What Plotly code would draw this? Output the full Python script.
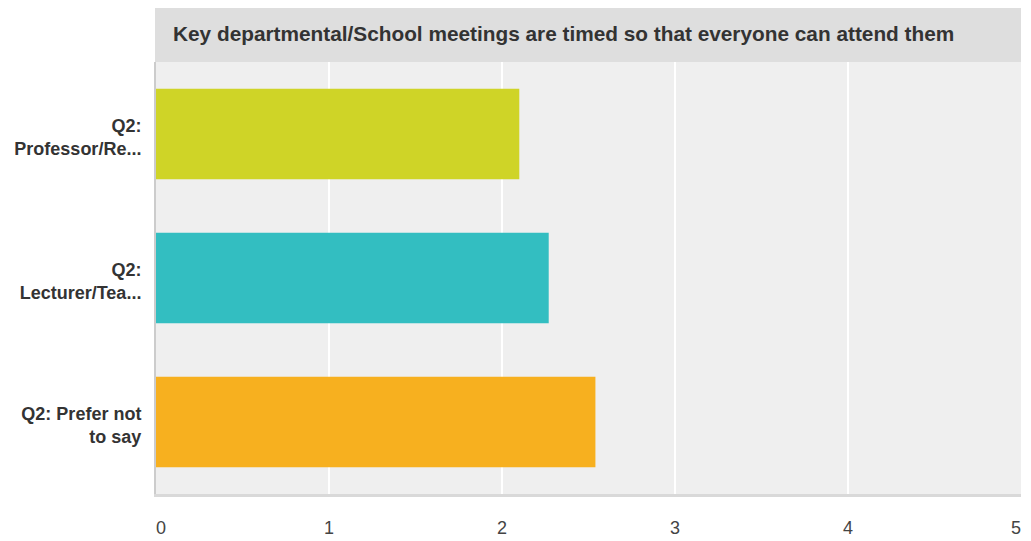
import plotly.graph_objects as go

categories = ["Q2:<br>Professor/Re...", "Q2:<br>Lecturer/Tea...", "Q2: Prefer not<br>to say"]
values = [2.10, 2.27, 2.54]
colors = ["#cfd427", "#33bec1", "#f7b01f"]
x_ticks = [0, 1, 2, 3, 4, 5]
x_ticktext = ["\u20070", "1", "2", "3", "4", "5\u2007"]  # end labels kept inside the plot edges
title_text = "Key departmental/School meetings are timed so that everyone can attend them"

# page body adds an 8px margin, so the figure is sized to fit inside the window
W, H = 1023, 533
ml, mr, mt, mb = 148, 10, 54, 47
plot_h = H - mt - mb
plot_w = W - ml - mr

fig = go.Figure(go.Bar(
    x=values, y=categories, orientation="h",
    marker=dict(color=colors, line=dict(width=0)),
    width=0.63,
))

fig.update_layout(
    width=W, height=H,
    margin=dict(l=ml, r=mr, t=mt, b=mb, autoexpand=False),
    paper_bgcolor="white",
    plot_bgcolor="#efefef",
    showlegend=False,
    font=dict(family="Liberation Sans, Arial, sans-serif", color="#444"),
    shapes=[
        dict(type="rect", xref="paper", yref="paper",
             x0=-1 / plot_w, x1=1, y0=1, y1=1 + mt / plot_h,
             fillcolor="#dedede", line=dict(width=0), layer="below"),
    ],
    annotations=[
        dict(text="<b>" + title_text + "</b>", xref="paper", yref="paper",
             x=15 / plot_w, y=1 + 29 / plot_h, xanchor="left", yanchor="middle",
             showarrow=False, font=dict(size=20.8, color="#333")),
    ],
)

fig.update_xaxes(
    range=[0, 5], tickvals=x_ticks, ticktext=x_ticktext,
    showgrid=True, gridcolor="white", gridwidth=2,
    zeroline=False, showline=True, linecolor="#d9d9d9", linewidth=3,
    tickfont=dict(size=18, color="#444"), ticklabelstandoff=15,
    ticklabeloverflow="allow",
    automargin=False, fixedrange=True,
)
fig.update_yaxes(
    autorange="reversed",
    tickvals=categories,
    ticktext=["<b>" + c + "</b>" for c in categories],
    showgrid=False, zeroline=False, showline=True, linecolor="#cccccc", linewidth=2,
    tickfont=dict(size=18, color="#333"),
    ticklabelstandoff=9, ticklabelshift=-3,
    automargin=False, fixedrange=True,
)
fig.update_traces(hoverinfo="skip")

fig.write_html("out.html")
